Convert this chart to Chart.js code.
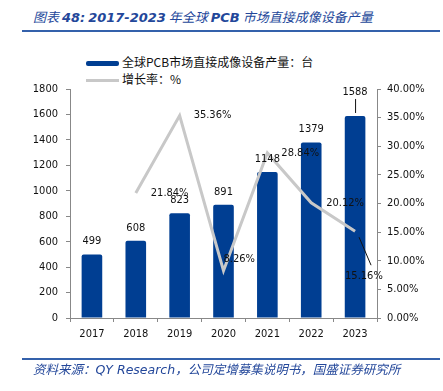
<!DOCTYPE html>
<html lang="zh">
<head>
<meta charset="UTF-8">
<title>PCB 直接成像设备产量</title>
<script src="https://cdn.jsdelivr.net/npm/chart.js"></script>
<style>
  body { margin: 0; background: #fff; width: 443px; height: 391px; overflow: hidden; position: relative; font-family: "Noto Sans CJK SC", sans-serif; }
  .title { position: absolute; left: 33px; top: 7px; font-size: 13px; font-style: italic; color: #23479A; white-space: nowrap; }
  .title b { font-family: "DejaVu Sans", sans-serif; font-size: 13px; font-weight: 600; }
  .rule { position: absolute; left: 22px; width: 418px; background: #3461AB; }
  .legend { position: absolute; left: 86px; font-size: 12px; color: #111; white-space: nowrap; }
  .legend .sw { display: inline-block; width: 33px; vertical-align: middle; margin-right: 3px; }
  .src { position: absolute; left: 33px; top: 359px; font-size: 12.5px; font-style: italic; color: #23479A; white-space: nowrap; }
  .src span { font-family: "DejaVu Sans", sans-serif; }
  #c { position: absolute; left: 0; top: 0; }
</style>
</head>
<body>
  <div class="title">图表 <b>48:</b> <b>2017-2023</b> 年全球 <b>PCB</b> 市场直接成像设备产量</div>
  <div class="rule" style="top:30px;height:2px;"></div>

  <div class="legend" style="top:53px;"><span class="sw" style="height:5px;background:#003E92;border-radius:2px;"></span>全球PCB市场直接成像设备产量：台</div>
  <div class="legend" style="top:70px;"><span class="sw" style="height:3px;background:#C8C8C8;"></span>增长率：%</div>

  <canvas id="c" width="443" height="391"></canvas>

  <div class="rule" style="top:358px;height:2px;"></div>
  <div class="src">资料来源：<span>QY Research</span>，公司定增募集说明书，国盛证券研究所</div>

<script>
  const years = ['2017', '2018', '2019', '2020', '2021', '2022', '2023'];
  const output = [499, 608, 823, 891, 1148, 1379, 1588];
  const growth = [null, 21.84, 35.36, 8.26, 28.84, 20.12, 15.16];
  const leftTicks = [0, 200, 400, 600, 800, 1000, 1200, 1400, 1600, 1800];
  const rightTicks = [0, 5, 10, 15, 20, 25, 30, 35, 40];

  const numFont = '11px "DejaVu Sans Condensed", "DejaVu Sans", sans-serif';

  // label placement: [dx, dy] from the mark
  const growthLabelOffset = [null, [15, 0], [14, 0], [0, -12], [14, 0], [15, 0], [-10, 45]];

  const labelPlugin = {
    id: 'labels',
    afterDatasetsDraw(chart) {
      const ctx = chart.ctx;
      ctx.save();
      ctx.font = numFont;
      ctx.fillStyle = '#111';
      ctx.strokeStyle = '#111';
      ctx.lineWidth = 1;
      ctx.textBaseline = 'middle';

      const bars = chart.getDatasetMeta(1).data;
      ctx.textAlign = 'center';
      bars.forEach((el, i) => {
        let y = el.y - 13;
        if (i === bars.length - 1) {
          y = el.y - 24;
          ctx.beginPath();
          ctx.moveTo(el.x + 0.5, y + 7);
          ctx.lineTo(el.x + 0.5, el.y - 3);
          ctx.stroke();
        }
        ctx.fillText(output[i], el.x, y);
      });

      const pts = chart.getDatasetMeta(0).data;
      ctx.textAlign = 'left';
      pts.forEach((el, i) => {
        if (growth[i] == null) return;
        const [dx, dy] = growthLabelOffset[i];
        if (i === pts.length - 1) {
          ctx.beginPath();
          ctx.moveTo(el.x + 4, el.y + 6);
          ctx.lineTo(el.x + 16, el.y + 34);
          ctx.stroke();
        }
        ctx.fillText(growth[i].toFixed(2) + '%', el.x + dx, el.y + dy);
      });
      ctx.restore();
    }
  };

  const axisGrid = { drawOnChartArea: false, color: '#888', tickLength: 4 };
  const tickFont = { family: '"DejaVu Sans Condensed", "DejaVu Sans"', size: 11 };

  new Chart(document.getElementById('c'), {
    data: {
      labels: years,
      datasets: [
        {
          type: 'line',
          label: '增长率：%',
          data: growth,
          yAxisID: 'y1',
          borderColor: '#C8C8C8',
          borderWidth: 3,
          pointRadius: 0,
          tension: 0,
          order: 0
        },
        {
          type: 'bar',
          label: '全球PCB市场直接成像设备产量：台',
          data: output,
          yAxisID: 'y',
          backgroundColor: '#003E92',
          borderRadius: 2,
          borderSkipped: 'bottom',
          barPercentage: 0.5,
          categoryPercentage: 0.94,
          order: 1
        }
      ]
    },
    options: {
      responsive: false,
      animation: false,
      layout: { padding: { top: 89, left: 0, right: 0, bottom: 0 } },
      plugins: { legend: { display: false }, tooltip: { enabled: false } },
      scales: {
        x: {
          grid: axisGrid,
          border: { color: '#888' },
          ticks: { color: '#111', font: tickFont, padding: 6, maxRotation: 0 },
          afterFit(s) { s.height = 73; }
        },
        y: {
          position: 'left',
          min: 0, max: 1800,
          afterBuildTicks(s) { s.ticks = leftTicks.map(v => ({ value: v })); },
          grid: axisGrid,
          border: { color: '#888' },
          ticks: { color: '#111', font: tickFont, padding: 8, callback: v => String(v) },
          afterFit(s) { s.width = 70; }
        },
        y1: {
          position: 'right',
          min: 0, max: 40,
          afterBuildTicks(s) { s.ticks = rightTicks.map(v => ({ value: v })); },
          grid: axisGrid,
          border: { color: '#888' },
          ticks: { color: '#111', font: tickFont, padding: 6, callback: v => v.toFixed(2) + '%' },
          afterFit(s) { s.width = 66; }
        }
      }
    },
    plugins: [labelPlugin]
  });
</script>
</body>
</html>
